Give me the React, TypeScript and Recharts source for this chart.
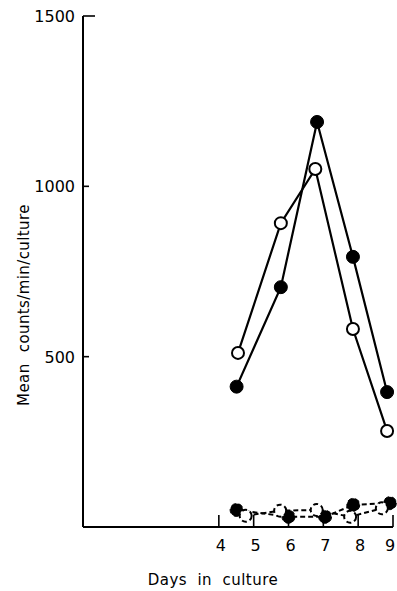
import { LineChart, Line, XAxis, YAxis } from 'recharts';

// tick labels
const dayTicks = [4, 5, 6, 7, 8, 9];
const countTicks = [500, 1000, 1500];

// upper curves (solid lines)
const filledDays = [4.51, 5.78, 6.82, 7.85, 8.83];
const filledCounts = [412, 704, 1189, 793, 396];
const openDays = [4.55, 5.78, 6.77, 7.85, 8.83];
const openCounts = [511, 892, 1051, 581, 282];

// lower curves (dashed lines)
const filledLowDays = [4.51, 6.0, 7.05, 7.86, 8.91];
const filledLowCounts = [50, 30, 30, 65, 70];
const openLowDays = [4.77, 5.76, 6.81, 7.77, 8.68];
const openLowCounts = [33, 48, 50, 30, 55];

const toPoints = (days: number[], counts: number[]) =>
  days.map((d, i) => ({ day: d, count: counts[i] }));

const FONT = '"DejaVu Sans", sans-serif';

const XTick = (props: any) => {
  const { x, y, payload } = props;
  // last label sits at the right edge, keep it inside the picture
  const tx = payload.value === 9 ? x - 3 : x + 2;
  return (
    <g>
      <line x1={x} y1={y} x2={x} y2={y - 12} stroke="#000" strokeWidth={1.6} />
      <text x={tx} y={y + 24} textAnchor="middle" fontSize={16} fontFamily={FONT} fill="#000">
        {payload.value}
      </text>
    </g>
  );
};

const YTick = (props: any) => {
  const { x, y, payload } = props;
  const len = payload.value === 1500 ? 12 : 6;
  return (
    <g>
      <line x1={x} y1={y} x2={x + len} y2={y} stroke="#000" strokeWidth={1.6} />
      <text x={x - 8} y={y + 6} textAnchor="end" fontSize={16} fontFamily={FONT} fill="#000">
        {payload.value}
      </text>
    </g>
  );
};

const filledDot = { r: 6.5, fill: '#000', stroke: '#000', strokeWidth: 1 };
const openDot = { r: 6, fill: '#fff', stroke: '#000', strokeWidth: 2 };

export default function App() {
  return (
    <div style={{ position: 'absolute', left: 0, top: 0, width: 397, height: 591, background: '#fff' }}>
      <LineChart width={397} height={591} margin={{ top: 16, right: 4, bottom: 0, left: 0 }}>
        <XAxis
          type="number"
          dataKey="day"
          domain={[0.1, 9]}
          ticks={dayTicks}
          tick={<XTick />}
          tickLine={false}
          tickSize={0}
          tickMargin={0}
          height={64}
          axisLine={{ stroke: '#000', strokeWidth: 2 }}
          interval={0}
          allowDuplicatedCategory={false}
          label={{
            content: () => (
              <text x={213} y={585} textAnchor="middle" fontSize={15} letterSpacing={0.5} wordSpacing={5} fontFamily={FONT} fill="#000">
                Days in culture
              </text>
            ),
          }}
        />
        <YAxis
          type="number"
          dataKey="count"
          domain={[0, 1500]}
          ticks={countTicks}
          tick={<YTick />}
          tickLine={false}
          tickSize={0}
          tickMargin={0}
          width={83}
          axisLine={{ stroke: '#000', strokeWidth: 2 }}
          interval={0}
          label={{
            content: () => (
              <text
                transform="translate(29,305) rotate(-90)"
                textAnchor="middle"
                fontSize={15}
                letterSpacing={0.4}
                wordSpacing={6}
                fontFamily={FONT}
                fill="#000"
              >
                Mean counts/min/culture
              </text>
            ),
          }}
        />
        <Line data={toPoints(filledLowDays, filledLowCounts)} dataKey="count" stroke="#000" strokeWidth={2} strokeDasharray="5 3" dot={filledDot} isAnimationActive={false} />
        <Line data={toPoints(openLowDays, openLowCounts)} dataKey="count" stroke="#000" strokeWidth={2} strokeDasharray="5 3" dot={openDot} isAnimationActive={false} />
        <Line data={toPoints(filledDays, filledCounts)} dataKey="count" stroke="#000" strokeWidth={2.2} dot={filledDot} isAnimationActive={false} />
        <Line data={toPoints(openDays, openCounts)} dataKey="count" stroke="#000" strokeWidth={2.2} dot={openDot} isAnimationActive={false} />
      </LineChart>
    </div>
  );
}
